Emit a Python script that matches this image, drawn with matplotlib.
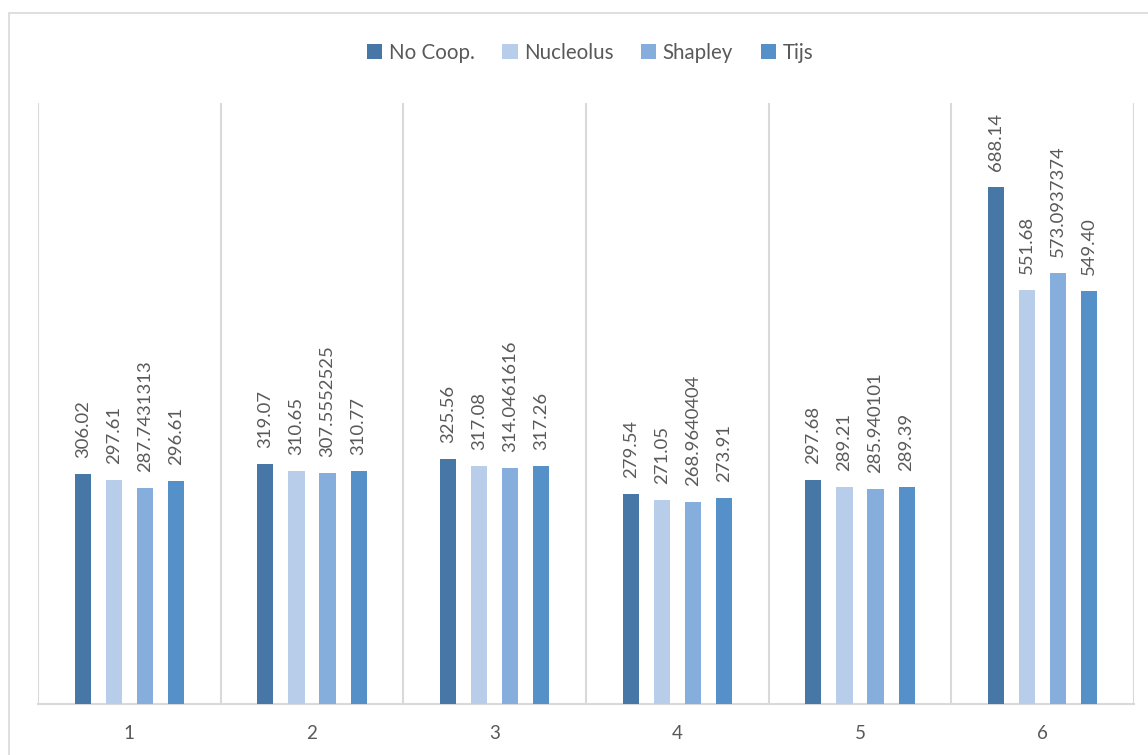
import matplotlib
matplotlib.use("Agg")
import matplotlib.pyplot as plt
import numpy as np
from matplotlib.patches import Rectangle

plt.rcParams['font.family'] = ['Lato', 'DejaVu Sans']

categories = ["1", "2", "3", "4", "5", "6"]
series_names = ["No Coop.", "Nucleolus", "Shapley", "Tijs"]
no_coop = [306.02, 319.07, 325.56, 279.54, 297.68, 688.14]
nucleolus = [297.61, 310.65, 317.08, 271.05, 289.21, 551.68]
shapley = [287.7431313, 307.5552525, 314.0461616, 268.9640404, 285.940101, 573.0937374]
tijs = [296.61, 310.77, 317.26, 273.91, 289.39, 549.40]
no_coop_labels = ["306.02", "319.07", "325.56", "279.54", "297.68", "688.14"]
nucleolus_labels = ["297.61", "310.65", "317.08", "271.05", "289.21", "551.68"]
shapley_labels = ["287.7431313", "307.5552525", "314.0461616", "268.9640404", "285.940101", "573.0937374"]
tijs_labels = ["296.61", "310.77", "317.26", "273.91", "289.39", "549.40"]

colors = ["#4677A6", "#B8CDE9", "#86AEDC", "#5591C8"]
text_color = "#595959"
grid_color = "#D9D9D9"

W, H = 1148, 755
fig = plt.figure(figsize=(W / 100, H / 100), dpi=100)
fig.patch.set_facecolor("white")

# outer chart border
fig.add_artist(Rectangle((9 / W, -0.1), 1.2, (H - 13) / H + 0.1, transform=fig.transFigure,
                         fill=False, edgecolor=grid_color, linewidth=1.2))

ax = fig.add_axes([38 / W, 1 - 704 / H, (1134 - 38) / W, (704 - 103) / H])
x = np.arange(len(categories))
spacing = 0.17
width = 0.088
all_vals = [no_coop, nucleolus, shapley, tijs]
all_labels = [no_coop_labels, nucleolus_labels, shapley_labels, tijs_labels]
for i, (vals, labs, name, c) in enumerate(zip(all_vals, all_labels, series_names, colors)):
    pos = x + (i - 1.5) * spacing
    ax.bar(pos, vals, width=width, color=c, label=name, zorder=3)
    for p, v, t in zip(pos, vals, labs):
        ax.annotate(t, (p, v), xytext=(0, 11.5), textcoords="offset points",
                    rotation=90, ha="center", va="bottom", fontsize=13.3, color=text_color)

ax.set_xlim(-0.5, len(categories) - 0.5)
ax.set_ylim(0, 800)
ax.set_yticks([])
ax.set_xticks(x)
ax.set_xticklabels(categories, fontsize=13.5, color=text_color)
ax.tick_params(axis="x", length=0, pad=15)
for b in np.arange(-0.5, len(categories), 1.0):
    ax.axvline(b, color=grid_color, linewidth=1.5, zorder=1)
for s in ["top", "right", "left"]:
    ax.spines[s].set_visible(False)
ax.spines["bottom"].set_color(grid_color)
ax.spines["bottom"].set_linewidth(1.5)

leg = fig.legend(loc="center", bbox_to_anchor=(590 / W, 1 - 53 / H), ncol=4, frameon=False,
                 fontsize=14.8, handlelength=0.75, handleheight=0.75, handletextpad=0.3,
                 columnspacing=1.35)
for t in leg.get_texts():
    t.set_color(text_color)

fig.savefig("out.png", dpi=100)
